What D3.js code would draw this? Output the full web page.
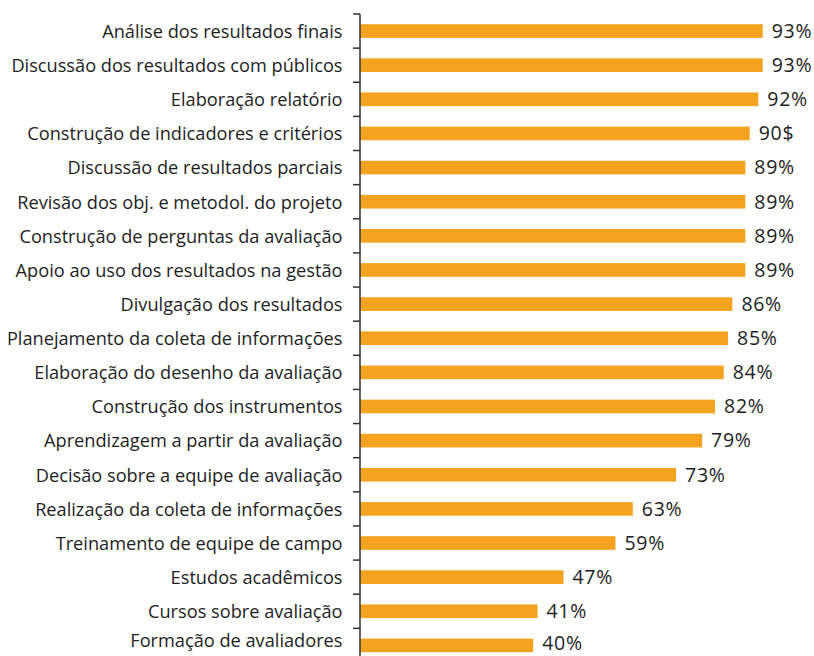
<!DOCTYPE html>
<html><head><meta charset="utf-8">
<script src="https://cdn.jsdelivr.net/npm/d3@7"></script>
<style>body{margin:0;background:#fff}svg{display:block}</style>
</head><body>
<svg id="chart" width="814" height="656"></svg>
<script>
const categories = [
  "Análise dos resultados finais",
  "Discussão dos resultados com públicos",
  "Elaboração relatório",
  "Construção de indicadores e critérios",
  "Discussão de resultados parciais",
  "Revisão dos obj. e metodol. do projeto",
  "Construção de perguntas da avaliação",
  "Apoio ao uso dos resultados na gestão",
  "Divulgação dos resultados",
  "Planejamento da coleta de informações",
  "Elaboração do desenho da avaliação",
  "Construção dos instrumentos",
  "Aprendizagem a partir da avaliação",
  "Decisão sobre a equipe de avaliação",
  "Realização da coleta de informações",
  "Treinamento de equipe de campo",
  "Estudos acadêmicos",
  "Cursos sobre avaliação",
  "Formação de avaliadores"
];
const values = [93, 93, 92, 90, 89, 89, 89, 89, 86, 85, 84, 82, 79, 73, 63, 59, 47, 41, 40];
const valueLabels = ["93%", "93%", "92%", "90$", "89%", "89%", "89%", "89%", "86%", "85%", "84%", "82%", "79%", "73%", "63%", "59%", "47%", "41%", "40%"];

(function () {
const svg = d3.select("#chart");
const W = 814, H = 656;
const x0 = 360, y0 = 14, step = 34.13;
const x = d3.scaleLinear().domain([0, 100]).range([x0, x0 + 433]);
const y = d3.scaleBand().domain(categories).range([y0, y0 + step * categories.length]).paddingInner(0.6).paddingOuter(0.3);

const font = "'Open Sans', sans-serif";
const color = "#1e1e1e";
const cy = d => y(d) + y.bandwidth() / 2;

svg.append("g").selectAll("rect").data(categories).join("rect")
  .attr("x", x(0))
  .attr("y", d => y(d))
  .attr("width", (d, i) => x(values[i]) - x(0))
  .attr("height", y.bandwidth())
  .attr("fill", "#f4a321");

const bounds = d3.range(categories.length + 1).map(i => y0 + i * y.step());
svg.append("line").attr("x1", x0).attr("x2", x0).attr("y1", y0).attr("y2", H)
  .attr("stroke", "#333").attr("stroke-width", 1.5);
svg.append("g").selectAll("line").data(bounds).join("line")
  .attr("x1", x0 - 7).attr("x2", x0)
  .attr("y1", d => d).attr("y2", d => d)
  .attr("stroke", "#333").attr("stroke-width", 1.5);

svg.append("g").selectAll("text").data(categories).join("text")
  .attr("x", x0 - 17.5)
  .attr("y", d => Math.min(cy(d) + 6.8, H - 9))
  .attr("text-anchor", "end")
  .attr("font-family", font).attr("font-size", 18.2).attr("fill", color)
  .text(d => d);

svg.append("g").selectAll("text").data(categories).join("text")
  .attr("x", (d, i) => x(values[i]) + 9)
  .attr("y", d => Math.min(cy(d) + 6.8, H - 6))
  .attr("font-family", font).attr("font-size", 19.5).attr("letter-spacing", 0.7).attr("fill", color)
  .text((d, i) => valueLabels[i]);
})();
</script>
</body></html>
